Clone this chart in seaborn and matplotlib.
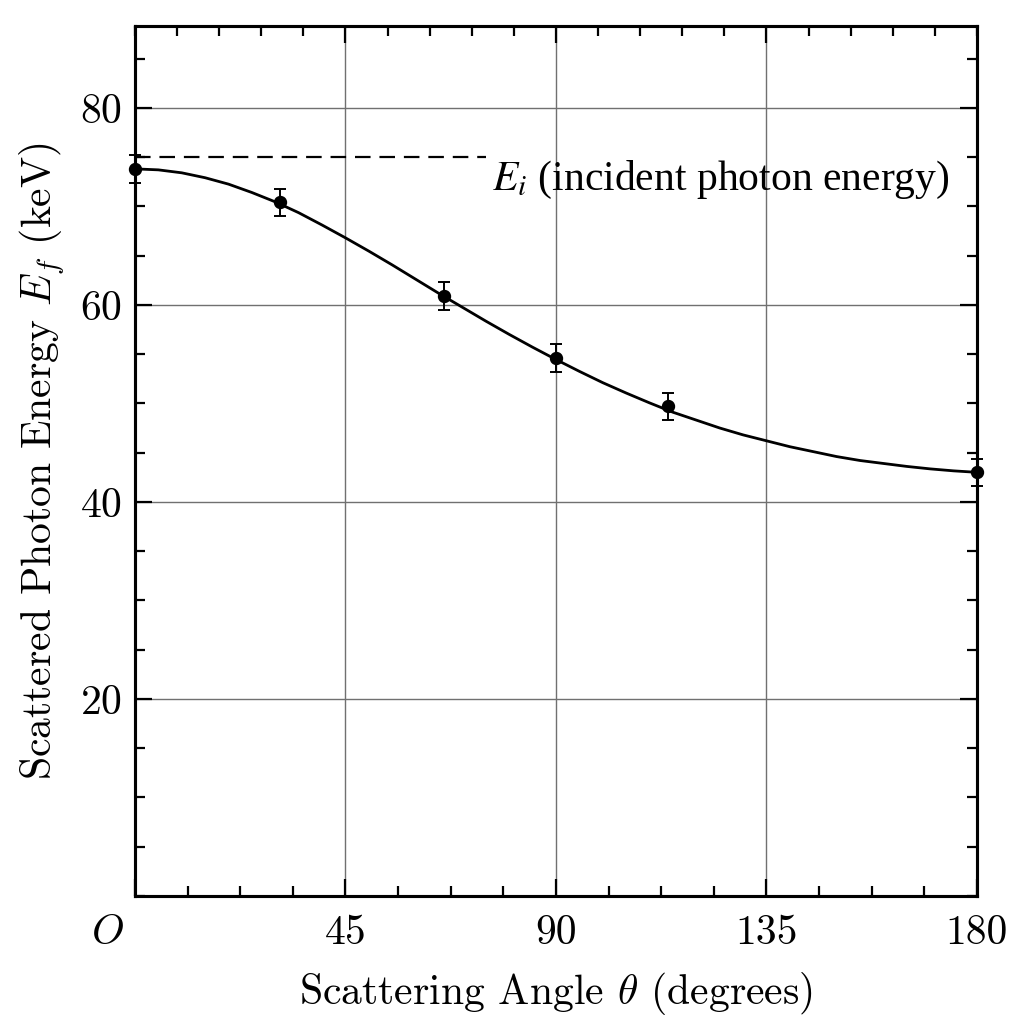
"""Compton scattering: scattered photon energy vs. scattering angle."""

import matplotlib
matplotlib.use("Agg")
import matplotlib.pyplot as plt
import matplotlib.ticker as mticker
from matplotlib.transforms import ScaledTranslation
import pandas as pd
import seaborn as sns

theta_meas = [0, 31, 66, 90, 114, 180]
energy_meas = [73.8, 70.4, 60.9, 54.6, 49.7, 43.0]
energy_err = [1.4, 1.4, 1.4, 1.4, 1.4, 1.4]

# smooth curve through the points (every 5 degrees)
theta_curve = [0, 5, 10, 15, 20, 25, 30, 35, 40, 45, 50, 55, 60, 65, 70,
               75, 80, 85, 90, 95, 100, 105, 110, 115, 120, 125, 130, 135,
               140, 145, 150, 155, 160, 165, 170, 175, 180]
energy_curve = [73.8, 73.7, 73.4, 72.9, 72.25, 71.4, 70.45, 69.35, 68.1,
                66.8, 65.45, 64.05, 62.6, 61.15, 59.75, 58.35, 57.0, 55.7,
                54.45, 53.25, 52.1, 51.05, 50.05, 49.1, 48.3, 47.5, 46.8,
                46.2, 45.6, 45.1, 44.6, 44.2, 43.9, 43.6, 43.35, 43.15, 43.0]

E_INCIDENT = 75.0
DASH_END = 75.0

sns.set_theme(style="ticks")
plt.rcParams["font.family"] = ["serif"]
plt.rcParams["font.serif"] = ["cmr10", "DejaVu Serif"]
plt.rcParams["mathtext.fontset"] = "cm"
plt.rcParams["axes.formatter.use_mathtext"] = True
plt.rcParams["axes.unicode_minus"] = False
plt.rcParams["text.color"] = "black"
plt.rcParams["axes.labelcolor"] = "black"

FS = 15

fig = plt.figure(figsize=(5.12, 5.12), dpi=200)
ax = fig.add_axes([0.1318, 0.125, 0.9541 - 0.1318, 0.9746 - 0.125])

curve = pd.DataFrame({"theta": theta_curve, "energy": energy_curve})
sns.lineplot(data=curve, x="theta", y="energy", ax=ax, color="black",
             lw=1.0, zorder=3)

ax.errorbar(theta_meas, energy_meas, yerr=energy_err, fmt="o", color="black",
            ms=3.8, elinewidth=0.7, capsize=2.1, capthick=0.7,
            zorder=4, clip_on=False)

ax.hlines(E_INCIDENT, 0, DASH_END, colors="black", lw=0.8,
          linestyles=(0, (7, 4)), zorder=3)
ax.text(76.3, 71.7, r"$E_i$ (incident photon energy)", fontsize=FS,
        family=["Liberation Serif", "DejaVu Serif"], math_fontfamily="stix",
        ha="left", va="baseline")

ax.set_xlim(0, 180)
ax.set_ylim(0, 88.3)

ax.set_xticks([0, 45, 90, 135, 180])
ax.set_xticklabels([r"$O$", "45", "90", "135", "180"])
ax.xaxis.set_minor_locator(mticker.MultipleLocator(11.25))
ax.set_yticks([20, 40, 60, 80])
ax.yaxis.set_minor_locator(mticker.MultipleLocator(5))

ax.tick_params(which="both", direction="in", right=True, width=0.8,
               labelsize=FS, colors="black")
ax.tick_params(which="major", length=6.1)
ax.tick_params(which="minor", length=3.6)
ax.tick_params(axis="x", pad=6.5)
ax.tick_params(axis="y", pad=4.5)

# shift the origin label left of the corner
lab0 = ax.get_xticklabels()[0]
lab0.set_transform(lab0.get_transform()
                   + ScaledTranslation(-0.14, 0, fig.dpi_scale_trans))

# top axis has its own minor tick spacing
top = ax.twiny()
top.set_xlim(ax.get_xlim())
top.set_xticks([45, 90, 135])
top.xaxis.set_minor_locator(mticker.MultipleLocator(9))
top.tick_params(which="both", direction="in", width=0.8, labeltop=False,
                colors="black")
top.tick_params(which="major", length=6.1)
top.tick_params(which="minor", length=3.6)

ax.grid(True, which="major", color="#707070", lw=0.5)
ax.set_axisbelow(True)

for a in (ax, top):
    for s in a.spines.values():
        s.set_linewidth(1.1)
        s.set_color("black")

ax.set_xlabel(r"Scattering Angle $\theta$ (degrees)", fontsize=FS, labelpad=6.5)
ax.set_ylabel(r"Scattered Photon Energy $E_f$ (keV)", fontsize=FS, labelpad=5)

fig.savefig("out.png", dpi=200, facecolor="white")
